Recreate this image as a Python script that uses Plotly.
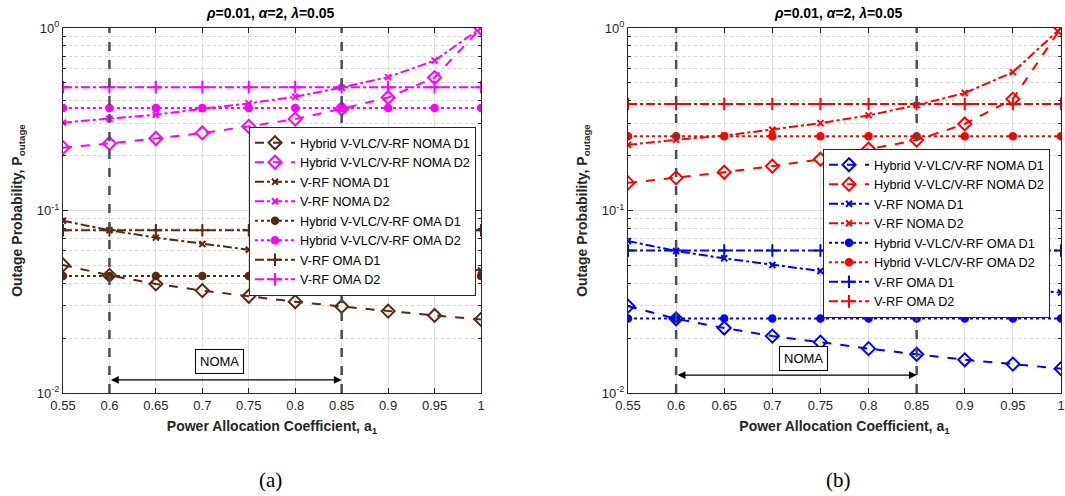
import plotly.graph_objects as go
import numpy as np

a1 = [0.55, 0.6, 0.65, 0.7, 0.75, 0.8, 0.85, 0.9, 0.95, 1.0]

# ---- Panel (a) ----
a_hyb_noma_d1 = [0.0503, 0.0441, 0.0396, 0.0364, 0.0339, 0.0316, 0.0298, 0.0281, 0.0266, 0.0253]
a_hyb_noma_d2 = [0.221, 0.233, 0.248, 0.266, 0.289, 0.317, 0.361, 0.416, 0.535, 1.0]
a_vrf_noma_d1 = [0.0878, 0.078, 0.071, 0.0655, 0.061, 0.057, 0.054, 0.051, 0.049, 0.047]
a_vrf_noma_d2 = [0.303, 0.318, 0.335, 0.361, 0.386, 0.420, 0.472, 0.538, 0.663, 1.0]
a_hyb_oma_d1 = [0.0438] * 10
a_hyb_oma_d2 = [0.364] * 10
a_vrf_oma_d1 = [0.078] * 10
a_vrf_oma_d2 = [0.474] * 10

# ---- Panel (b) ----
b_hyb_noma_d1 = [0.0299, 0.0255, 0.0227, 0.0205, 0.0190, 0.0175, 0.0163, 0.0152, 0.0144, 0.0136]
b_hyb_noma_d2 = [0.1417, 0.151, 0.162, 0.175, 0.191, 0.217, 0.243, 0.298, 0.408, 1.0]
b_vrf_noma_d1 = [0.068, 0.060, 0.0547, 0.0503, 0.0466, 0.0440, 0.0415, 0.0393, 0.0373, 0.0355]
b_vrf_noma_d2 = [0.229, 0.244, 0.257, 0.277, 0.301, 0.332, 0.378, 0.440, 0.573, 1.0]
b_hyb_oma_d1 = [0.0256] * 10
b_hyb_oma_d2 = [0.255] * 10
b_vrf_oma_d1 = [0.0604] * 10
b_vrf_oma_d2 = [0.383] * 10

names = ["Hybrid V-VLC/V-RF NOMA D1", "Hybrid V-VLC/V-RF NOMA D2",
         "V-RF NOMA D1", "V-RF NOMA D2",
         "Hybrid V-VLC/V-RF OMA D1", "Hybrid V-VLC/V-RF OMA D2",
         "V-RF OMA D1", "V-RF OMA D2"]

title_text = "<i>ρ</i>=0.01, <i>α</i>=2, <i>λ</i>=0.05"
x_ticks = [0.55, 0.6, 0.65, 0.7, 0.75, 0.8, 0.85, 0.9, 0.95, 1.0]
x_ticktext = ["0.55", "0.6", "0.65", "0.7", "0.75", "0.8", "0.85", "0.9", "0.95", "1"]
y_ticks = [0.01, 0.1, 1.0]
y_ticktext = ["10<sup>-2</sup>", "10<sup>-1</sup>", "10<sup>0</sup>"]
y_minor = [m * d for d in (0.01, 0.1) for m in range(2, 10)]
nomaregion = [0.6, 0.85]

BROWN = "#5a2810"
MAG = "#ff00ff"
RED = "#ff0000"
BLUE = "#0000ff"
AXC = "#262626"
FONT = "Liberation Sans"

fig = go.Figure()


def add_panel(series, c1, c2, xa, ya, legend):
    styles = [
        (c1, "dash", "diamond-open", 10),
        (c2, "dash", "diamond-open", 10),
        (c1, "dashdot", "x-thin-open", 6),
        (c2, "dashdot", "x-thin-open", 6),
        (c1, "dot", "circle", 6.5),
        (c2, "dot", "circle", 6.5),
        (c1, "dashdot", "cross-thin-open", 9),
        (c2, "dashdot", "cross-thin-open", 9),
    ]
    for name, ys, (col, dash, sym, ms) in zip(names, series, styles):
        fig.add_trace(go.Scatter(
            x=a1, y=ys, name=name, mode="lines+markers",
            line=dict(color=col, dash=dash, width=2),
            marker=dict(symbol=sym, size=ms, color=col,
                        line=dict(color=col, width=2)),
            xaxis=xa, yaxis=ya, legend=legend))


add_panel([a_hyb_noma_d1, a_hyb_noma_d2, a_vrf_noma_d1, a_vrf_noma_d2,
           a_hyb_oma_d1, a_hyb_oma_d2, a_vrf_oma_d1, a_vrf_oma_d2],
          BROWN, MAG, "x", "y", "legend")
add_panel([b_hyb_noma_d1, b_hyb_noma_d2, b_vrf_noma_d1, b_vrf_noma_d2,
           b_hyb_oma_d1, b_hyb_oma_d2, b_vrf_oma_d1, b_vrf_oma_d2],
          BLUE, RED, "x2", "y2", "legend2")

W, H = 1065, 496


def xax(x0, x1, anchor):
    return dict(domain=[x0 / W, x1 / W], range=[0.55, 1.0], anchor=anchor,
                automargin=False,
                tickvals=x_ticks, ticktext=x_ticktext,
                ticks="inside", ticklen=5, tickcolor=AXC,
                showline=True, linecolor=AXC, linewidth=1, mirror="allticks",
                showgrid=True, gridcolor="#e0e0e0", gridwidth=1,
                zeroline=False,
                tickfont=dict(family=FONT, size=13, color=AXC),
                title=dict(text="<b>Power Allocation Coefficient, a<sub>1</sub></b>",
                           font=dict(family=FONT, size=14, color=AXC), standoff=9))


def yax(anchor):
    return dict(domain=[1 - 393 / H, 1 - 28 / H], type="log", range=[-2, 0],
                anchor=anchor, automargin=False,
                tickvals=y_ticks, ticktext=y_ticktext,
                ticks="inside", ticklen=5, tickcolor=AXC,
                showline=True, linecolor=AXC, linewidth=1, mirror="allticks",
                showgrid=True, gridcolor="#e0e0e0", gridwidth=1,
                zeroline=False,
                minor=dict(tickvals=y_minor, ticks="inside", ticklen=3,
                           tickcolor=AXC, showgrid=True, gridcolor="#d6d6d6",
                           griddash="dot", gridwidth=1),
                tickfont=dict(family=FONT, size=13, color=AXC),
                title=dict(text="<b>Outage Probability, P<sub>outage</sub></b>",
                           font=dict(family=FONT, size=14, color=AXC), standoff=10))


legend_common = dict(bgcolor="white", bordercolor="#262626", borderwidth=1,
                     font=dict(family=FONT, size=12.7, color="black"),
                     xanchor="left", yanchor="top", tracegroupgap=0,
                     itemwidth=40)

fig.update_layout(
    width=W, height=H, margin=dict(l=0, r=0, t=0, b=0, autoexpand=False),
    plot_bgcolor="white", paper_bgcolor="white",
    xaxis=xax(63, 481, "y"), yaxis=yax("x"),
    xaxis2=xax(628, 1061, "y2"), yaxis2=yax("x2"),
    legend=dict(x=249 / W, y=1 - 127 / H, **legend_common),
    legend2=dict(x=823 / W, y=1 - 149 / H, **legend_common),
    showlegend=True,
)

shapes = []
annotations = []
for xr, yr, xc, yarrow, boxy in [("x", "y", 0.718, 0.0118, -1.825),
                                 ("x2", "y2", 0.732, 0.01254, -1.809)]:
    for xv in nomaregion:
        shapes.append(dict(type="line", xref=xr, yref=yr + " domain",
                           x0=xv, x1=xv, y0=0, y1=1,
                           line=dict(color="#4d4d4d", width=2.5, dash="dash")))
    annotations.append(dict(xref=xr, yref=yr, x=nomaregion[1], y=np.log10(yarrow),
                            axref=xr, ayref=yr, ax=nomaregion[0], ay=np.log10(yarrow),
                            text="", showarrow=True, arrowhead=2, arrowside="end+start",
                            arrowsize=1.2, arrowwidth=1.3, arrowcolor="black"))
    annotations.append(dict(xref=xr, yref=yr, x=xc, y=boxy, text="NOMA",
                            showarrow=False, bordercolor="black", borderwidth=1,
                            bgcolor="white", borderpad=4,
                            font=dict(family=FONT, size=13, color="black")))

for xc, cap in [(270, "(a)"), (838, "(b)")]:
    annotations.append(dict(xref="paper", yref="paper", x=xc / W, y=1 - 13 / H,
                            xanchor="center", yanchor="middle",
                            text="<b>" + title_text + "</b>", showarrow=False,
                            font=dict(family=FONT, size=14, color="black")))
    annotations.append(dict(xref="paper", yref="paper", x=xc / W, y=1 - 480 / H,
                            xanchor="center", yanchor="middle",
                            text=cap, showarrow=False,
                            font=dict(family="Liberation Serif", size=21, color="black")))

fig.update_layout(shapes=shapes, annotations=annotations)
fig.write_html("out.html")
